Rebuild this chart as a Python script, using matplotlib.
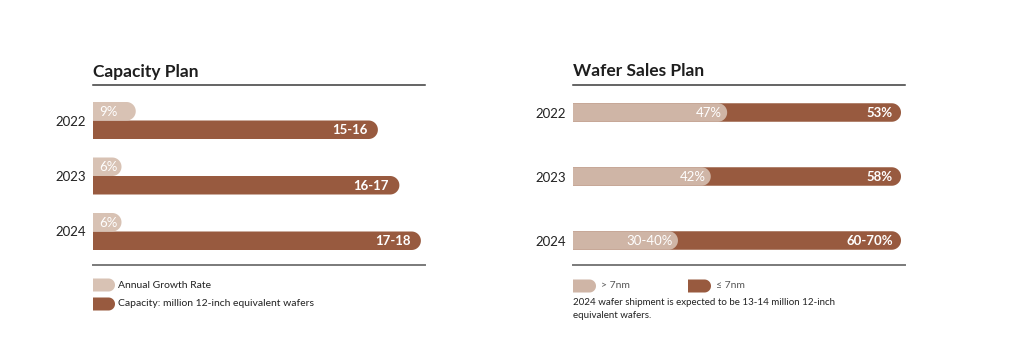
import numpy as np
import matplotlib
matplotlib.use("Agg")
import matplotlib.pyplot as plt

# data
years = ["2022", "2023", "2024"]
growth = [9, 6, 6]                      # annual growth rate, %
growth_labels = ["9%", "6%", "6%"]
cap_low = [15, 16, 17]                  # capacity, million 12-inch eq. wafers
cap_high = [16, 17, 18]
above_7nm = [47, 42, 32]                # share of wafer sales, %
above_labels = ["47%", "42%", "30-40%"]
below_labels = ["53%", "58%", "60-70%"]
note = "2024 wafer shipment is expected to be 13-14 million 12-inch\nequivalent wafers."

LIGHT = "#d8c2b4"
LIGHT2 = "#cfb5a6"
DARK = "#985a3f"
FONT = "Lato"

plt.rcParams["font.family"] = [FONT, "DejaVu Sans"]

W, H = 1032, 350
fig = plt.figure(figsize=(W / 100, H / 100), dpi=100)
fig.patch.set_facecolor("white")

def px_ax(x0, x1, y0, y1):
    # axes box given in pixel coords (y from top)
    return fig.add_axes([x0 / W, 1 - y1 / H, (x1 - x0) / W, (y1 - y0) / H])

def style(ax):
    for s in ["left", "right"]:
        ax.spines[s].set_visible(False)
    ax.spines["top"].set_color("#3a3a3a")
    ax.spines["top"].set_linewidth(1.1)
    ax.spines["bottom"].set_color("#7a7a7a")
    ax.spines["bottom"].set_linewidth(1.4)
    ax.set_xticks([])
    ax.tick_params(axis="y", length=0, labelsize=9.5, pad=5, labelcolor="#222222")
    ax.set_facecolor("none")

BAR_PX = 18.5
t = np.linspace(-np.pi / 2, np.pi / 2, 40)

def capsule(ax, y, left, right, h, color, ppu, z, r_px=BAR_PX / 2):
    # bar with a rounded right end (half ellipse in data units = half circle on screen)
    rx = r_px / ppu
    xs = np.r_[left, right - rx + rx * np.cos(t), left]
    ys = np.r_[y - h / 2, y + h / 2 * np.sin(t), y + h / 2]
    ax.fill(xs, ys, color=color, lw=0, zorder=z)

# ---- Capacity Plan ----
ax = px_ax(93, 425, 85, 265)
style(ax)
ax.set_ylim(180 / 55.5 - 35.5 / 55.5, -35.5 / 55.5)
cap_base = 2.25                              # truncated axis start
cap_ppu = 21.5
ax.set_xlim(cap_base, cap_base + 332 / cap_ppu)
ax.set_yticks(range(len(years)))
ax.set_yticklabels(years)
h = BAR_PX / 55.5
for i in range(len(years)):
    mid = (cap_low[i] + cap_high[i]) / 2
    capsule(ax, i + h / 2, cap_base, mid, h, DARK, cap_ppu, 2)
    ax.text(mid - 0.48, i + h / 2 + 0.01, f"{cap_low[i]}-{cap_high[i]}", color="white",
            fontsize=9.5, fontweight="bold", ha="right", va="center", zorder=5)
ax.text(0.0, 1.075, "Capacity Plan", transform=ax.transAxes, fontsize=12.5,
        fontweight="bold", ha="left", va="center", color="#1e1e1e")

axg = ax.twiny()
axg.set_xlim(0, 332 / 4.75)
axg.set_axis_off()
for i in range(len(years)):
    capsule(axg, i - h / 2, 0, growth[i], h, LIGHT, 4.75, 2)
    axg.text(1.4, i - h / 2 + 0.01, growth_labels[i], color="white", fontsize=9.5,
             ha="left", va="center", zorder=5)

# legend
lg = px_ax(93, 425, 275, 315)
lg.set_xlim(0, 332)
lg.set_ylim(40, 0)
lg.set_axis_off()
for k, (c, s) in enumerate([(LIGHT, "Annual Growth Rate"),
                            (DARK, "Capacity: million 12-inch equivalent wafers")]):
    yy = 10 + k * 19
    capsule(lg, yy, 0, 22, 13, c, 1, 2, r_px=6.5)
    lg.text(25, yy, s, fontsize=7.5, va="center", ha="left", color="#222222")

# ---- Wafer Sales Plan ----
bx = px_ax(573, 905, 85, 265)
style(bx)
bx.set_ylim(180 / 64 - 27.5 / 64, -27.5 / 64)
w_ppu = 3.28
bx.set_xlim(0, 332 / w_ppu)
bx.set_yticks(range(len(years)))
bx.set_yticklabels(years)
h2 = BAR_PX / 64
for i in range(len(years)):
    capsule(bx, i, 0, 100, h2, DARK, w_ppu, 2)
    capsule(bx, i, 0, above_7nm[i], h2, LIGHT2, w_ppu, 3)
    bx.text(above_7nm[i] - 1.5, i + 0.01, above_labels[i], color="white", fontsize=9.5,
            ha="right", va="center", zorder=5)
    bx.text(97.5, i + 0.01, below_labels[i], color="white", fontsize=9.5,
            fontweight="bold", ha="right", va="center", zorder=5)
bx.text(0.0, 1.075, "Wafer Sales Plan", transform=bx.transAxes, fontsize=12.5,
        fontweight="bold", ha="left", va="center", color="#1e1e1e")

lg2 = px_ax(573, 905, 275, 335)
lg2.set_xlim(0, 332)
lg2.set_ylim(60, 0)
lg2.set_axis_off()
for x0, c, s in [(0, LIGHT2, "> 7nm"), (115, DARK, "\u2264 7nm")]:
    capsule(lg2, 11, x0, x0 + 23, 13, c, 1, 2, r_px=6.5)
    lg2.text(x0 + 28, 11, s, fontsize=7.5, va="center", ha="left", color="#555555",
             family=[FONT, "DejaVu Sans"])
lg2.text(0, 23, note, fontsize=7, va="top", ha="left", color="#222222",
         linespacing=1.6)

fig.savefig("out.png", dpi=100, facecolor="white")
